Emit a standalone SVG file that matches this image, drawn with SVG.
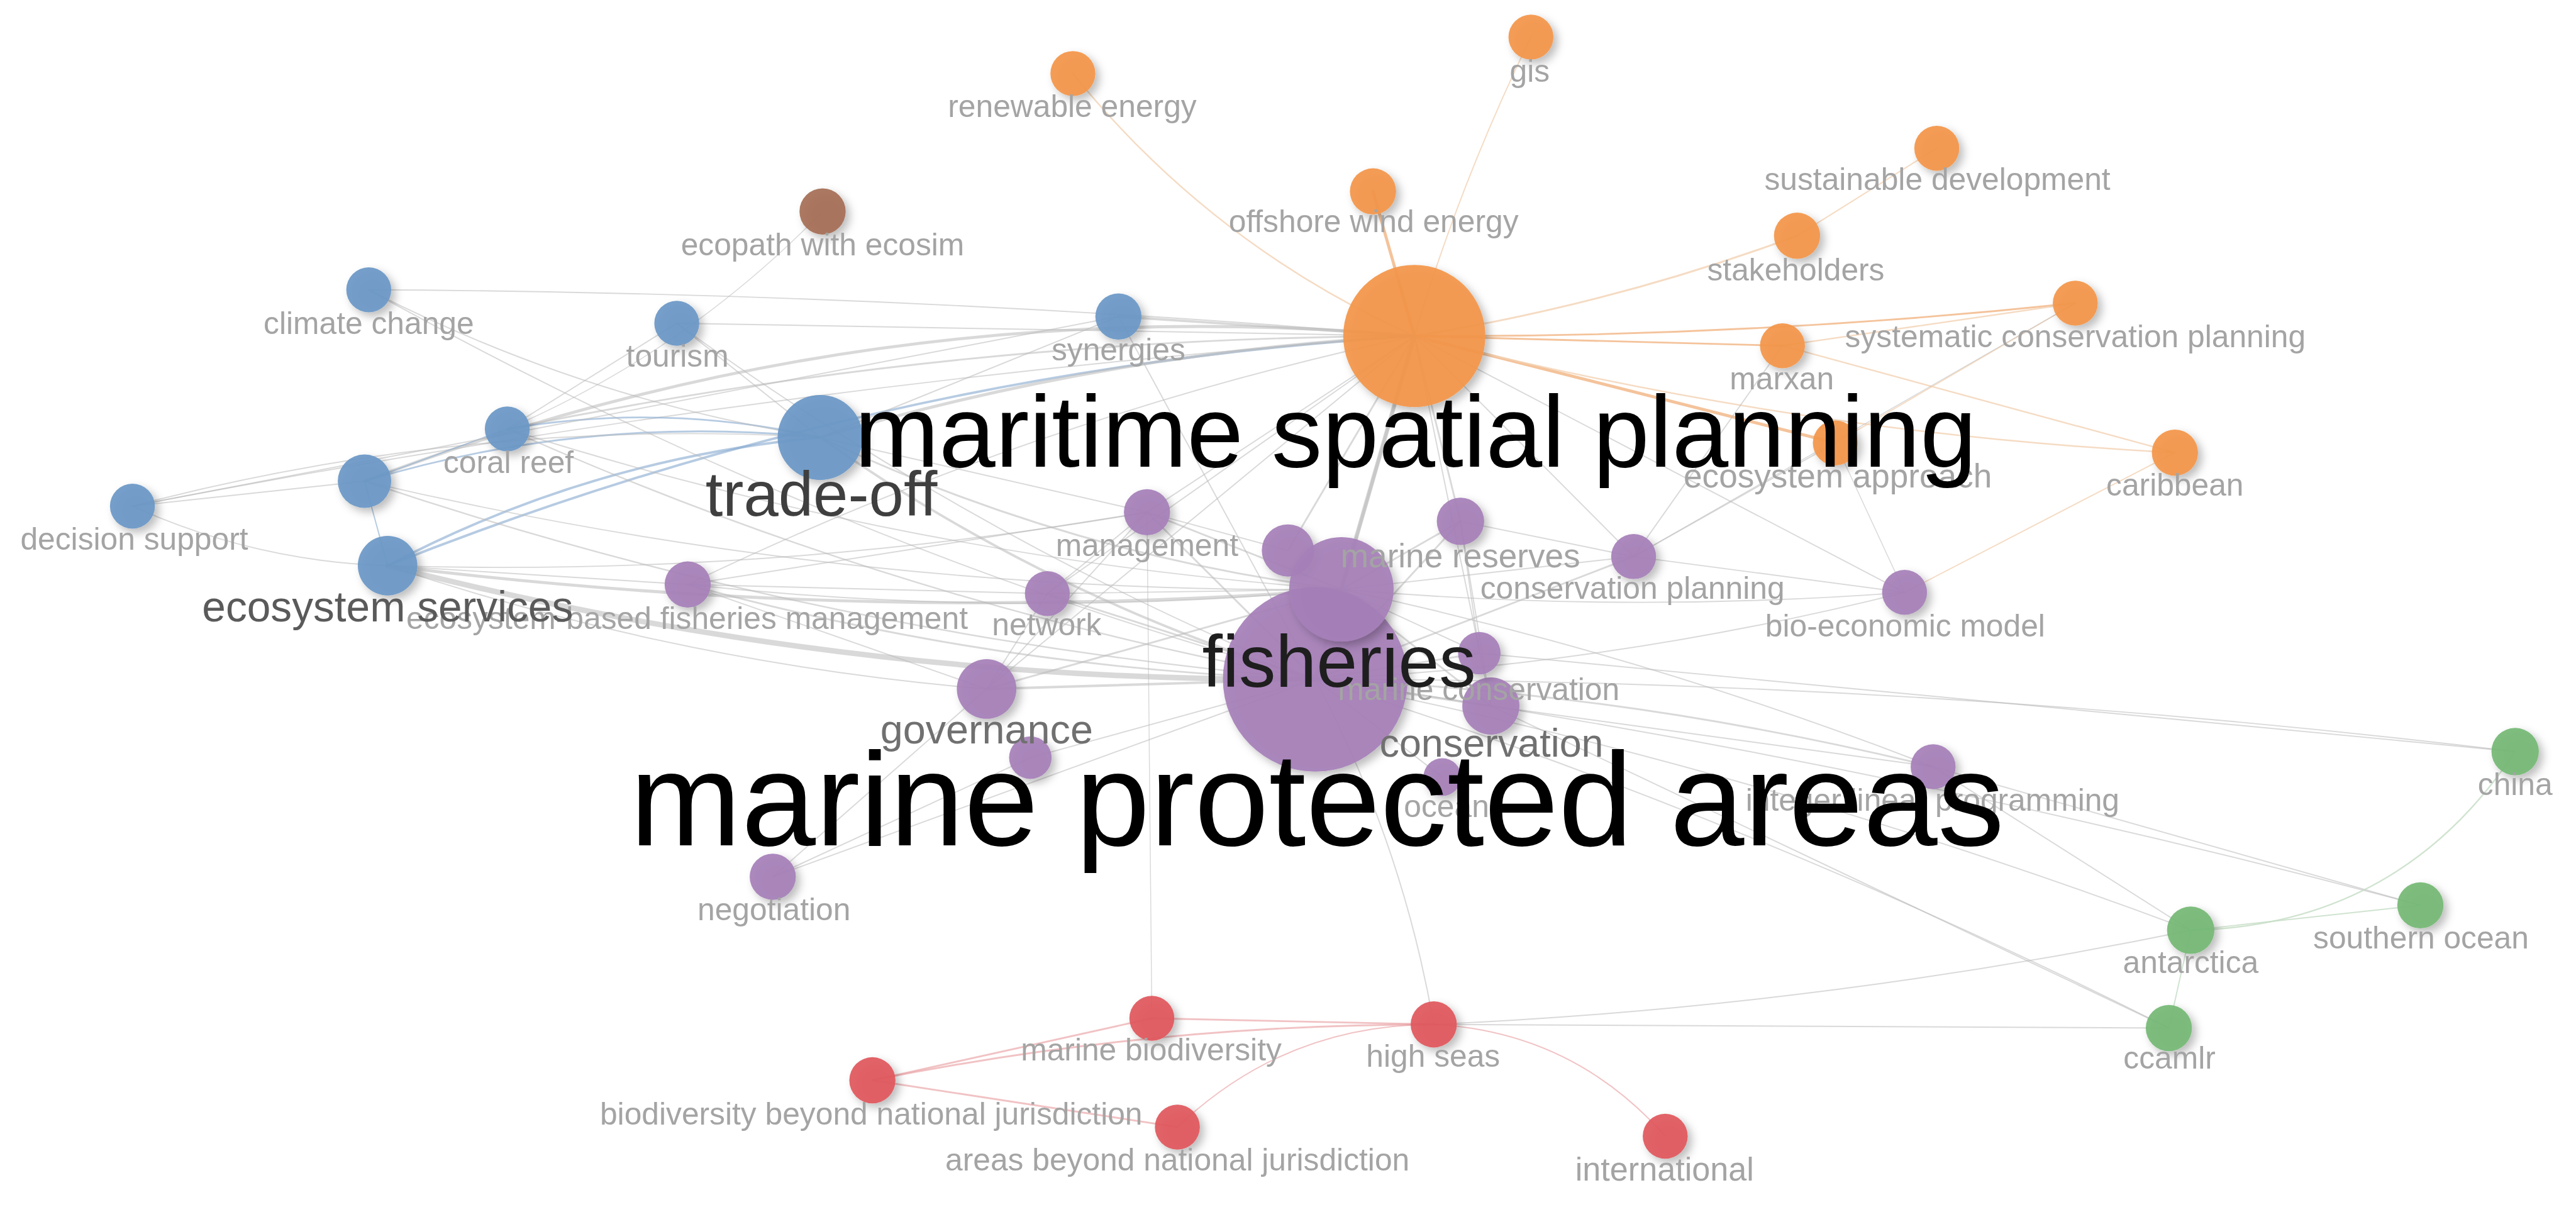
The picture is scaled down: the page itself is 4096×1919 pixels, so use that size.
<svg xmlns="http://www.w3.org/2000/svg" width="4096" height="1919" viewBox="0 0 4096 1919">
<defs>
<filter id="sh" x="-40%" y="-40%" width="190%" height="190%">
<feDropShadow dx="7" dy="7" stdDeviation="7" flood-color="#000" flood-opacity="0.28"/>
</filter>
<style>
.e{fill:none;stroke:#b9b9b9;stroke-opacity:0.55;stroke-linecap:round}
.eo{fill:none;stroke:#f0aa70;stroke-opacity:0.7;stroke-linecap:round}
.el{fill:none;stroke:#f3d2b4;stroke-opacity:0.8;stroke-linecap:round}
.eb{fill:none;stroke:#86a9cf;stroke-opacity:0.6;stroke-linecap:round}
.er{fill:none;stroke:#e79a9d;stroke-opacity:0.6;stroke-linecap:round}
.eg{fill:none;stroke:#c4dcc4;stroke-opacity:0.8;stroke-linecap:round}
.n{filter:url(#sh);fill-opacity:0.93}
.b{fill:#6b98c6}.o{fill:#f39649}.p{fill:#a680b8}.g{fill:#74b874}.r{fill:#e0585c}.br{fill:#a66e56}
text{font-family:"Liberation Sans",Arial,sans-serif;text-anchor:middle}
.s{font-size:51.5px;fill:#a4a4a4}
</style>
</defs>
<rect x="0" y="0" width="4096" height="1919" fill="#ffffff"/>
<g transform="scale(0.966)">
<g id="connectors">
<path class="el" stroke-width="2.5" d="M1766,121 Q1995,404 2328,553"/>
<path class="el" stroke-width="2" d="M2520,61 Q2404,299 2328,553"/>
<path class="eo" stroke-width="5" d="M2260,315 L2328,553"/>
<path class="el" stroke-width="3" d="M2328,553 Q2651,502 2958,388"/>
<path class="el" stroke-width="2" d="M2958,388 L3188,244"/>
<path class="eo" stroke-width="3" d="M2328,553 Q2874,556 3416,499"/>
<path class="eo" stroke-width="3" d="M2328,553 L2934,569"/>
<path class="eo" stroke-width="5" d="M2328,553 L3021,729"/>
<path class="el" stroke-width="2.5" d="M2934,569 L3580,745"/>
<path class="el" stroke-width="2.5" d="M2934,569 L3416,499"/>
<path class="el" stroke-width="2.5" d="M2328,553 Q2944,712 3580,745"/>
<path class="el" stroke-width="2" d="M3416,499 L3021,729"/>
<path class="e" stroke-width="4" d="M2328,553 L1841,521"/>
<path class="e" stroke-width="5" d="M2328,553 Q1436,474 600,792"/>
<path class="e" stroke-width="3" d="M2328,553 Q1574,555 835,706"/>
<path class="eb" stroke-width="4" d="M2328,553 Q1453,607 638,931"/>
<path class="e" stroke-width="2" d="M2328,553 Q1265,630 218,833"/>
<path class="e" stroke-width="2" d="M2328,553 L1114,532"/>
<path class="e" stroke-width="2" d="M2328,553 Q1469,481 607,477"/>
<path class="e" stroke-width="5" d="M2328,553 Q1829,578 1350,720"/>
<path class="eb" stroke-width="4" d="M1350,720 Q973,754 638,931"/>
<path class="eb" stroke-width="3" d="M1350,720 Q1094,662 835,706"/>
<path class="eb" stroke-width="3" d="M1350,720 Q968,681 600,792"/>
<path class="e" stroke-width="2" d="M1350,720 Q775,686 218,833"/>
<path class="e" stroke-width="2" d="M1350,720 L1114,532"/>
<path class="e" stroke-width="4" d="M1350,720 Q1726,984 2165,1118"/>
<path class="e" stroke-width="3" d="M1350,720 Q1759,914 2208,970"/>
<path class="e" stroke-width="2" d="M1350,720 L1888,843"/>
<path class="e" stroke-width="2" d="M607,477 Q959,658 1350,720"/>
<path class="e" stroke-width="1.5" d="M1354,348 Q1130,579 835,706"/>
<path class="e" stroke-width="2" d="M1114,532 L835,706"/>
<path class="eb" stroke-width="2" d="M835,706 L600,792"/>
<path class="eb" stroke-width="2" d="M600,792 L638,931"/>
<path class="e" stroke-width="2" d="M218,833 L600,792"/>
<path class="e" stroke-width="2" d="M218,833 Q418,924 638,931"/>
<path class="e" stroke-width="2" d="M218,833 L1841,521"/>
<path class="e" stroke-width="9" d="M638,931 Q1389,1124 2165,1118"/>
<path class="e" stroke-width="5" d="M638,931 Q1421,1029 2208,970"/>
<path class="e" stroke-width="2" d="M638,931 Q1119,1092 1624,1134"/>
<path class="e" stroke-width="2" d="M638,931 L1132,962"/>
<path class="e" stroke-width="2" d="M638,931 Q1267,950 1888,843"/>
<path class="e" stroke-width="2.5" d="M600,792 Q1363,1049 2165,1118"/>
<path class="e" stroke-width="2.5" d="M835,706 Q1475,992 2165,1118"/>
<path class="e" stroke-width="2" d="M835,706 Q1506,920 2208,970"/>
<path class="e" stroke-width="2" d="M600,792 Q1393,978 2208,970"/>
<path class="e" stroke-width="2" d="M1114,532 Q1604,888 2165,1118"/>
<path class="e" stroke-width="2" d="M607,477 Q1348,891 2165,1118"/>
<path class="e" stroke-width="2" d="M1841,521 L2165,1118"/>
<path class="e" stroke-width="2" d="M1841,521 L1350,720"/>
<path class="e" stroke-width="3" d="M1132,962 Q1639,1102 2165,1118"/>
<path class="e" stroke-width="2" d="M1132,962 Q1670,1020 2208,970"/>
<path class="e" stroke-width="2" d="M1132,962 L1888,843"/>
<path class="e" stroke-width="2" d="M1132,962 L1724,977"/>
<path class="e" stroke-width="2" d="M1132,962 L1624,1134"/>
<path class="e" stroke-width="7" d="M2328,553 L2165,1118"/>
<path class="e" stroke-width="5" d="M2328,553 L2208,970"/>
<path class="e" stroke-width="3" d="M2328,553 L2120,906"/>
<path class="e" stroke-width="3" d="M2328,553 L2404,858"/>
<path class="e" stroke-width="2" d="M2328,553 L1888,843"/>
<path class="e" stroke-width="2" d="M2328,553 L1624,1134"/>
<path class="e" stroke-width="2" d="M2328,553 L1724,977"/>
<path class="e" stroke-width="2" d="M2328,553 L2689,916"/>
<path class="e" stroke-width="2" d="M2328,553 L2454,1162"/>
<path class="e" stroke-width="2" d="M2328,553 L3135,975"/>
<path class="e" stroke-width="2" d="M2328,553 Q1705,686 1132,962"/>
<path class="e" stroke-width="3" d="M2165,1118 L1888,843"/>
<path class="e" stroke-width="3" d="M2165,1118 L1724,977"/>
<path class="e" stroke-width="4" d="M2165,1118 L1624,1134"/>
<path class="e" stroke-width="2" d="M2165,1118 L1272,1443"/>
<path class="e" stroke-width="2" d="M2165,1118 L1696,1247"/>
<path class="e" stroke-width="3" d="M2165,1118 L2404,858"/>
<path class="e" stroke-width="3" d="M2165,1118 L2689,916"/>
<path class="e" stroke-width="2" d="M2165,1118 Q2657,1095 3135,975"/>
<path class="e" stroke-width="3" d="M2165,1118 L2435,1075"/>
<path class="e" stroke-width="4" d="M2165,1118 L2454,1162"/>
<path class="e" stroke-width="2" d="M2165,1118 L2374,1279"/>
<path class="e" stroke-width="3" d="M2165,1118 Q2681,1139 3182,1262"/>
<path class="e" stroke-width="2" d="M2165,1118 Q3156,1118 4140,1237"/>
<path class="e" stroke-width="2" d="M2165,1118 Q3086,1249 3984,1490"/>
<path class="e" stroke-width="2" d="M2165,1118 Q2902,1267 3606,1531"/>
<path class="e" stroke-width="2" d="M2165,1118 Q2890,1349 3570,1692"/>
<path class="e" stroke-width="2" d="M2165,1118 Q2308,1386 2360,1686"/>
<path class="e" stroke-width="3" d="M2208,970 L2404,858"/>
<path class="e" stroke-width="3" d="M2208,970 L1888,843"/>
<path class="e" stroke-width="3" d="M2208,970 L2454,1162"/>
<path class="e" stroke-width="2" d="M2208,970 L2689,916"/>
<path class="e" stroke-width="2" d="M2208,970 Q2671,1010 3135,975"/>
<path class="e" stroke-width="2" d="M2208,970 Q2707,1077 3182,1262"/>
<path class="e" stroke-width="3" d="M2208,970 L1624,1134"/>
<path class="e" stroke-width="2" d="M2208,970 L1724,977"/>
<path class="e" stroke-width="2" d="M2208,970 L2435,1075"/>
<path class="e" stroke-width="2" d="M2120,906 L1888,843"/>
<path class="e" stroke-width="2" d="M1624,1134 L1724,977"/>
<path class="e" stroke-width="2" d="M1624,1134 L1888,843"/>
<path class="e" stroke-width="2" d="M1624,1134 L1272,1443"/>
<path class="e" stroke-width="2" d="M1272,1443 L1696,1247"/>
<path class="e" stroke-width="2" d="M1724,977 L1888,843"/>
<path class="e" stroke-width="2" d="M2404,858 L2689,916"/>
<path class="e" stroke-width="2" d="M2404,858 L2454,1162"/>
<path class="e" stroke-width="2" d="M2404,858 L2435,1075"/>
<path class="e" stroke-width="2" d="M2689,916 L2934,569"/>
<path class="e" stroke-width="2" d="M3021,729 L2689,916"/>
<path class="e" stroke-width="1.5" d="M3135,975 L3021,729"/>
<path class="el" stroke-width="2" d="M3580,745 L3135,975"/>
<path class="e" stroke-width="1.5" d="M3416,499 L2689,916"/>
<path class="e" stroke-width="2" d="M3135,975 L2689,916"/>
<path class="e" stroke-width="2" d="M2454,1162 L3182,1262"/>
<path class="e" stroke-width="2" d="M2435,1075 L4140,1237"/>
<path class="e" stroke-width="2" d="M3182,1262 L3984,1490"/>
<path class="e" stroke-width="2" d="M3182,1262 L3606,1531"/>
<path class="e" stroke-width="2" d="M2454,1162 L3570,1692"/>
<path class="eg" stroke-width="2.5" d="M4140,1237 Q3950,1524 3606,1531"/>
<path class="eg" stroke-width="2" d="M3606,1531 L3984,1490"/>
<path class="eg" stroke-width="2" d="M3606,1531 L3570,1692"/>
<path class="e" stroke-width="2" d="M2360,1686 L3570,1692"/>
<path class="e" stroke-width="2" d="M2360,1686 Q2989,1658 3606,1531"/>
<path class="er" stroke-width="3" d="M1436,1778 L1896,1676"/>
<path class="er" stroke-width="3" d="M1436,1778 Q1893,1686 2360,1686"/>
<path class="er" stroke-width="3" d="M1436,1778 L1938,1855"/>
<path class="er" stroke-width="3" d="M1896,1676 L2360,1686"/>
<path class="er" stroke-width="2" d="M1938,1855 Q2115,1686 2360,1686"/>
<path class="er" stroke-width="2" d="M2360,1686 Q2589,1698 2741,1870"/>
<path class="e" stroke-width="1.5" d="M1896,1676 L1888,843"/>
</g>
<g id="nodes">
<g id="node-maritime-spatial-planning"><circle class="n o" cx="2328" cy="553" r="117"/></g>
<g id="node-renewable-energy"><circle class="n o" cx="1766" cy="121" r="37"/></g>
<g id="node-gis"><circle class="n o" cx="2520" cy="61" r="37"/></g>
<g id="node-offshore-wind-energy"><circle class="n o" cx="2260" cy="315" r="38"/></g>
<g id="node-sustainable-development"><circle class="n o" cx="3188" cy="244" r="37"/></g>
<g id="node-stakeholders"><circle class="n o" cx="2958" cy="388" r="38"/></g>
<g id="node-systematic-conservation-planning"><circle class="n o" cx="3416" cy="499" r="37"/></g>
<g id="node-marxan"><circle class="n o" cx="2934" cy="569" r="37"/></g>
<g id="node-caribbean"><circle class="n o" cx="3580" cy="745" r="38"/></g>
<g id="node-ecosystem-approach"><circle class="n o" cx="3021" cy="729" r="37"/></g>
<g id="node-ecopath-with-ecosim"><circle class="n br" cx="1354" cy="348" r="38"/></g>
<g id="node-climate-change"><circle class="n b" cx="607" cy="477" r="37"/></g>
<g id="node-tourism"><circle class="n b" cx="1114" cy="532" r="37"/></g>
<g id="node-coral-reef"><circle class="n b" cx="835" cy="706" r="37"/></g>
<g id="node-blue-unlabeled"><circle class="n b" cx="600" cy="792" r="44"/></g>
<g id="node-decision-support"><circle class="n b" cx="218" cy="833" r="37"/></g>
<g id="node-ecosystem-services"><circle class="n b" cx="638" cy="931" r="49"/></g>
<g id="node-synergies"><circle class="n b" cx="1841" cy="521" r="38"/></g>
<g id="node-trade-off"><circle class="n b" cx="1350" cy="720" r="70"/></g>
<g id="node-management"><circle class="n p" cx="1888" cy="843" r="38"/></g>
<g id="node-network"><circle class="n p" cx="1724" cy="977" r="37"/></g>
<g id="node-ecosystem-based-fisheries-management"><circle class="n p" cx="1132" cy="962" r="38"/></g>
<g id="node-governance"><circle class="n p" cx="1624" cy="1134" r="49"/></g>
<g id="node-purple-unlabeled-2"><circle class="n p" cx="1696" cy="1247" r="35"/></g>
<g id="node-negotiation"><circle class="n p" cx="1272" cy="1443" r="38"/></g>
<g id="node-marine-reserves"><circle class="n p" cx="2404" cy="858" r="39"/></g>
<g id="node-conservation-planning"><circle class="n p" cx="2689" cy="916" r="37"/></g>
<g id="node-bio-economic-model"><circle class="n p" cx="3135" cy="975" r="37"/></g>
<g id="node-integer-linear-programming"><circle class="n p" cx="3182" cy="1262" r="37"/></g>
<g id="node-ocean"><circle class="n p" cx="2374" cy="1279" r="31"/></g>
<g id="node-marine-protected-areas"><circle class="n p" cx="2165" cy="1118" r="152"/></g>
<g id="node-conservation"><circle class="n p" cx="2454" cy="1162" r="47"/></g>
<g id="node-marine-conservation"><circle class="n p" cx="2435" cy="1075" r="35"/></g>
<g id="node-purple-unlabeled-1"><circle class="n p" cx="2120" cy="906" r="43"/></g>
<g id="node-fisheries"><circle class="n p" cx="2208" cy="970" r="86"/></g>
<g id="node-china"><circle class="n g" cx="4140" cy="1237" r="39"/></g>
<g id="node-antarctica"><circle class="n g" cx="3606" cy="1531" r="39"/></g>
<g id="node-southern-ocean"><circle class="n g" cx="3984" cy="1490" r="38"/></g>
<g id="node-ccamlr"><circle class="n g" cx="3570" cy="1692" r="38"/></g>
<g id="node-marine-biodiversity"><circle class="n r" cx="1896" cy="1676" r="37"/></g>
<g id="node-high-seas"><circle class="n r" cx="2360" cy="1686" r="38"/></g>
<g id="node-biodiversity-beyond-national-jurisdiction"><circle class="n r" cx="1436" cy="1778" r="38"/></g>
<g id="node-areas-beyond-national-jurisdiction"><circle class="n r" cx="1938" cy="1855" r="37"/></g>
<g id="node-international"><circle class="n r" cx="2741" cy="1870" r="37"/></g>
</g>
<g id="labels">
<text class="s" x="1765" y="193">renewable energy</text>
<text class="s" x="2518" y="135">gis</text>
<text class="s" x="2261" y="382">offshore wind energy</text>
<text class="s" x="3189" y="313">sustainable development</text>
<text class="s" x="2956" y="462">stakeholders</text>
<text class="s" x="3416" y="571">systematic conservation planning</text>
<text class="s" x="2933" y="641">marxan</text>
<text class="s" x="3580" y="816">caribbean</text>
<text class="s" x="1354" y="420">ecopath with ecosim</text>
<text class="s" x="607" y="550">climate change</text>
<text class="s" x="1115" y="604">tourism</text>
<text class="s" x="837" y="778">coral reef</text>
<text class="s" x="221" y="905">decision support</text>
<text class="s" x="1841" y="593">synergies</text>
<text class="s" x="1888" y="915">management</text>
<text class="s" x="1723" y="1046">network</text>
<text class="s" x="1131" y="1035">ecosystem-based fisheries management</text>
<text class="s" x="1274" y="1514">negotiation</text>
<text class="s" x="2687" y="986">conservation planning</text>
<text class="s" x="3136" y="1048">bio-economic model</text>
<text class="s" x="2434" y="1152">marine conservation</text>
<text class="s" x="2381" y="1345">ocean</text>
<text class="s" x="3181" y="1334">integer linear programming</text>
<text class="s" x="4140" y="1309">china</text>
<text class="s" x="3606" y="1601">antarctica</text>
<text class="s" x="3985" y="1561">southern ocean</text>
<text class="s" x="3571" y="1759">ccamlr</text>
<text class="s" x="1895" y="1745">marine biodiversity</text>
<text class="s" x="2359" y="1756">high seas</text>
<text class="s" x="1434" y="1851">biodiversity beyond national jurisdiction</text>
<text class="s" x="1938" y="1927">areas beyond national jurisdiction</text>
<text class="s" x="2740" y="1943" style="font-size:54px">international</text>
<text class="s" x="3025" y="802" style="font-size:55px">ecosystem approach</text>
<text class="s" x="2404" y="934" style="font-size:55px">marine reserves</text>
<text x="1624" y="1224" style="font-size:67px;fill:#707070">governance</text>
<text x="2455" y="1245" style="font-size:65px;fill:#707070">conservation</text>
<text x="638" y="1023" style="font-size:70px;fill:#5a5a5a">ecosystem services</text>
<text x="1352" y="849" style="font-size:103px;fill:#3f3f3f">trade-off</text>
<text x="2204" y="1130" style="font-size:121px;fill:#1e1e1e">fisheries</text>
<text x="2330" y="768" style="font-size:167px;fill:#000">maritime spatial planning</text>
<text x="2168" y="1391" style="font-size:220px;fill:#000">marine protected areas</text>
</g>
</g>
</svg>
